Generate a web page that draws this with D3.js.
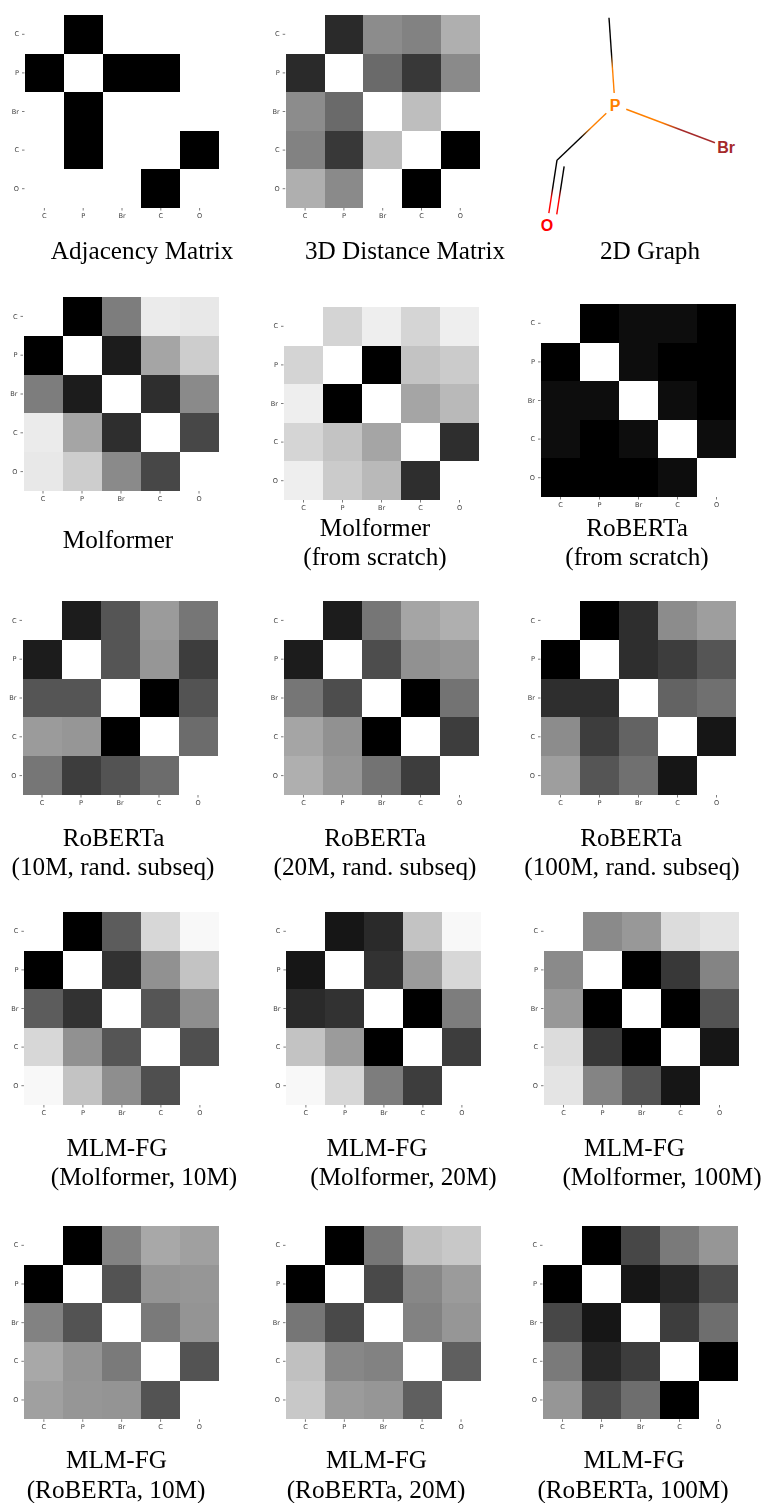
<!DOCTYPE html>
<html>
<head>
<meta charset="utf-8">
<script src="https://cdn.jsdelivr.net/npm/d3@7"></script>
<style>
html, body { margin: 0; padding: 0; background: #fff; }
svg { display: block; }
</style>
</head>
<body>
<div id="chart"></div>
<script>
// atom labels on both axes
var atoms = ["C", "P", "Br", "C", "O"];

// matrices (0 black, 255 white)
var adjacency = [[255,0,255,255,255],[0,255,0,0,255],[255,0,255,255,255],[255,0,255,255,0],[255,255,255,0,255]];
var distance3d = [[255,42,140,130,175],[42,255,107,55,138],[140,107,255,190,255],[130,55,190,255,0],[175,138,255,0,255]];
var molformer = [[255,0,125,235,232],[0,255,30,165,205],[125,30,255,45,138],[235,165,45,255,70],[232,205,138,70,255]];
var molformerScratch = [[255,212,238,213,238],[212,255,0,195,203],[238,0,255,165,185],[213,195,165,255,45],[238,203,185,45,255]];
var robertaScratch = [[255,3,8,15,3],[3,255,8,3,3],[8,8,255,15,0],[15,3,15,255,10],[3,3,0,10,255]];
var roberta10 = [[255,28,85,155,118],[28,255,85,150,60],[85,85,255,0,82],[155,150,0,255,108],[118,60,82,108,255]];
var roberta20 = [[255,28,118,165,175],[28,255,78,145,150],[118,78,255,0,115],[165,145,0,255,62],[175,150,115,62,255]];
var roberta100 = [[255,0,45,140,158],[0,255,45,62,85],[45,45,255,100,112],[140,62,100,255,18],[158,85,112,18,255]];
var fgMol10 = [[255,0,92,215,248],[0,255,48,145,195],[92,48,255,85,142],[215,145,85,255,80],[248,195,142,80,255]];
var fgMol20 = [[255,18,42,195,248],[18,255,48,155,215],[42,48,255,0,125],[195,155,0,255,60],[248,215,125,60,255]];
var fgMol100 = [[255,138,152,220,228],[138,255,0,55,132],[152,0,255,0,82],[220,55,0,255,25],[228,132,82,25,255]];
var fgRob10 = [[255,0,130,168,160],[0,255,82,148,150],[130,82,255,122,148],[168,148,122,255,82],[160,150,148,82,255]];
var fgRob20 = [[255,0,118,192,200],[0,255,72,135,155],[118,72,255,130,150],[192,135,130,255,95],[200,155,150,95,255]];
var fgRob100 = [[255,0,70,122,150],[0,255,18,40,75],[70,18,255,62,110],[122,40,62,255,0],[150,75,110,0,255]];

// the molecule, layout units
var molLabels = ["", "P", "Br", "", "O"];
var molColors = ["#000", "#ff8000", "#a52a2a", "#000", "#ff0000"];
var molX = [-0.15, 0, 2.78, -1.45, -1.7];
var molY = [2.18, 0, -1.05, -1.38, -3];
var molBonds = [[0,1,1],[1,2,1],[1,3,1],[3,4,2]];

var width = 766;
var height = 1503;

var svg = d3.select("#chart").append("svg")
    .attr("width", width)
    .attr("height", height);

// the reference is a resampled bitmap, everything is a bit soft
var soft = svg.append("defs").append("filter")
    .attr("id", "soft")
    .attr("filterUnits", "userSpaceOnUse")
    .attr("x", 0).attr("y", 0)
    .attr("width", width).attr("height", height);
soft.append("feGaussianBlur").attr("stdDeviation", 0.35);

var grey = d3.scaleLinear().domain([0,255]).range(["#000","#fff"]);

function drawMatrix(values, left, top, w, h) {
  var x = d3.scaleBand().domain(d3.range(atoms.length)).range([0, w]);
  var y = d3.scaleBand().domain(d3.range(atoms.length)).range([0, h]);

  var g = svg.append("g")
    .attr("filter", "url(#soft)")
    .append("g")
    .attr("transform", "translate(" + left + "," + top + ")");

  values.forEach(function(row, r) {
    g.selectAll(null)
      .data(row)
      .enter().append("rect")
        .attr("x", function(d, c) { return x(c); })
        .attr("y", y(r))
        .attr("width", x.bandwidth())
        .attr("height", y.bandwidth())
        .attr("shape-rendering", "crispEdges")
        .attr("fill", function(d) { return grey(d); });
  });

  var xAxis = d3.axisBottom(x).tickSize(2.5).tickPadding(3).tickFormat(function(i) { return atoms[i]; });
  var yAxis = d3.axisLeft(y).tickSize(2.5).tickPadding(3).tickFormat(function(i) { return atoms[i]; });

  var ax = g.append("g").attr("transform", "translate(0," + h + ")").call(xAxis);
  var ay = g.append("g").attr("transform", "translate(-0.5,0)").call(yAxis);
  [ax, ay].forEach(function(a) {
    a.select(".domain").remove();
    a.selectAll("line").attr("stroke", "#444").attr("stroke-width", 0.7);
    a.selectAll("text")
      .attr("fill", "#444")
      .style("font-family", "'DejaVu Sans', sans-serif")
      .style("font-size", "6.6px");
  });
}

function drawTitle(lines, cx, baseline) {
  lines.forEach(function(line, i) {
    svg.append("g")
      .attr("filter", "url(#soft)")
      .append("text")
      .attr("x", cx[i])
      .attr("y", baseline[i])
      .attr("text-anchor", "middle")
      .attr("fill", "#000")
      .style("font-family", "'Liberation Serif', serif")
      .style("font-size", "25.2px")
      .text(line);
  });
}

drawMatrix(adjacency, 25, 15, 194, 193);
drawMatrix(distance3d, 285.7, 15, 194, 193);
drawMatrix(molformer, 23.5, 297, 195, 194);
drawMatrix(molformerScratch, 284, 307, 195, 193);
drawMatrix(robertaScratch, 541, 304, 195, 193);
drawMatrix(roberta10, 22.5, 601, 195, 194);
drawMatrix(roberta20, 284, 601, 195, 194);
drawMatrix(roberta100, 541, 601, 195, 194);
drawMatrix(fgMol10, 24.4, 912, 195, 193);
drawMatrix(fgMol20, 286.4, 912, 195, 193);
drawMatrix(fgMol100, 544, 912, 195, 193);
drawMatrix(fgRob10, 24.4, 1226, 194.5, 193.3);
drawMatrix(fgRob20, 286, 1226, 194.5, 193.3);
drawMatrix(fgRob100, 543, 1226, 195, 193.3);

drawTitle(["Adjacency Matrix"], [142], [259]);
drawTitle(["3D Distance Matrix"], [405], [259]);
drawTitle(["2D Graph"], [650], [259]);
drawTitle(["Molformer"], [118], [548]);
drawTitle(["Molformer", "(from scratch)"], [375, 375], [536, 565]);
drawTitle(["RoBERTa", "(from scratch)"], [637, 637], [536, 565]);
drawTitle(["RoBERTa", "(10M, rand. subseq)"], [113.5, 113], [846, 875]);
drawTitle(["RoBERTa", "(20M, rand. subseq)"], [375, 375], [846, 875]);
drawTitle(["RoBERTa", "(100M, rand. subseq)"], [631, 632], [846, 875]);
drawTitle(["MLM-FG", "(Molformer, 10M)"], [117, 144], [1156, 1185]);
drawTitle(["MLM-FG", "(Molformer, 20M)"], [377, 403.5], [1156, 1185]);
drawTitle(["MLM-FG", "(Molformer, 100M)"], [634.5, 662], [1156, 1185]);
drawTitle(["MLM-FG", "(RoBERTa, 10M)"], [116.5, 116], [1468, 1498]);
drawTitle(["MLM-FG", "(RoBERTa, 20M)"], [376.5, 376], [1468, 1498]);
drawTitle(["MLM-FG", "(RoBERTa, 100M)"], [634, 633], [1468, 1498]);

// 2D graph
var mx = d3.scaleLinear().domain([-2, 3]).range([535, 735]);
var my = d3.scaleLinear().domain([-3, 3]).range([225, -15]);
var defs = svg.select("defs");
var labelGap = 12;
var mol = svg.append("g");

molBonds.forEach(function(b, i) {
  var x1 = mx(molX[b[0]]), y1 = my(molY[b[0]]);
  var x2 = mx(molX[b[1]]), y2 = my(molY[b[1]]);
  var len = Math.sqrt((x2-x1)*(x2-x1) + (y2-y1)*(y2-y1));
  var ux = (x2-x1)/len, uy = (y2-y1)/len;

  var grad = defs.append("linearGradient")
    .attr("id", "bond" + i)
    .attr("gradientUnits", "userSpaceOnUse")
    .attr("x1", x1).attr("y1", y1)
    .attr("x2", x2).attr("y2", y2);
  grad.append("stop").attr("offset", 0.42).attr("stop-color", molColors[b[0]]);
  grad.append("stop").attr("offset", 0.58).attr("stop-color", molColors[b[1]]);

  var gapA = molLabels[b[0]] ? labelGap : 0;
  var gapB = molLabels[b[1]] ? labelGap : 0;

  mol.append("line")
    .attr("x1", x1 + ux*gapA).attr("y1", y1 + uy*gapA)
    .attr("x2", x2 - ux*gapB).attr("y2", y2 - uy*gapB)
    .attr("stroke", "url(#bond" + i + ")")
    .attr("stroke-width", 1.4);

  if (b[2] === 2) {
    // second stroke of a double bond, shifted to the right and a bit shorter
    var off = 8;
    mol.append("line")
      .attr("x1", x1 + ux*5 + uy*off).attr("y1", y1 + uy*5 - ux*off)
      .attr("x2", x2 - ux*gapB + uy*off).attr("y2", y2 - uy*gapB - ux*off)
      .attr("stroke", "url(#bond" + i + ")")
      .attr("stroke-width", 1.4);
  }
});

molLabels.forEach(function(label, i) {
  if (!label) return;
  mol.append("text")
    .attr("x", mx(molX[i]))
    .attr("y", my(molY[i]))
    .attr("dy", "0.36em")
    .attr("text-anchor", "middle")
    .attr("fill", molColors[i])
    .style("font-family", "'Liberation Sans', sans-serif")
    .style("font-weight", "bold")
    .style("font-size", "16px")
    .text(label);
});
</script>
</body>
</html>
